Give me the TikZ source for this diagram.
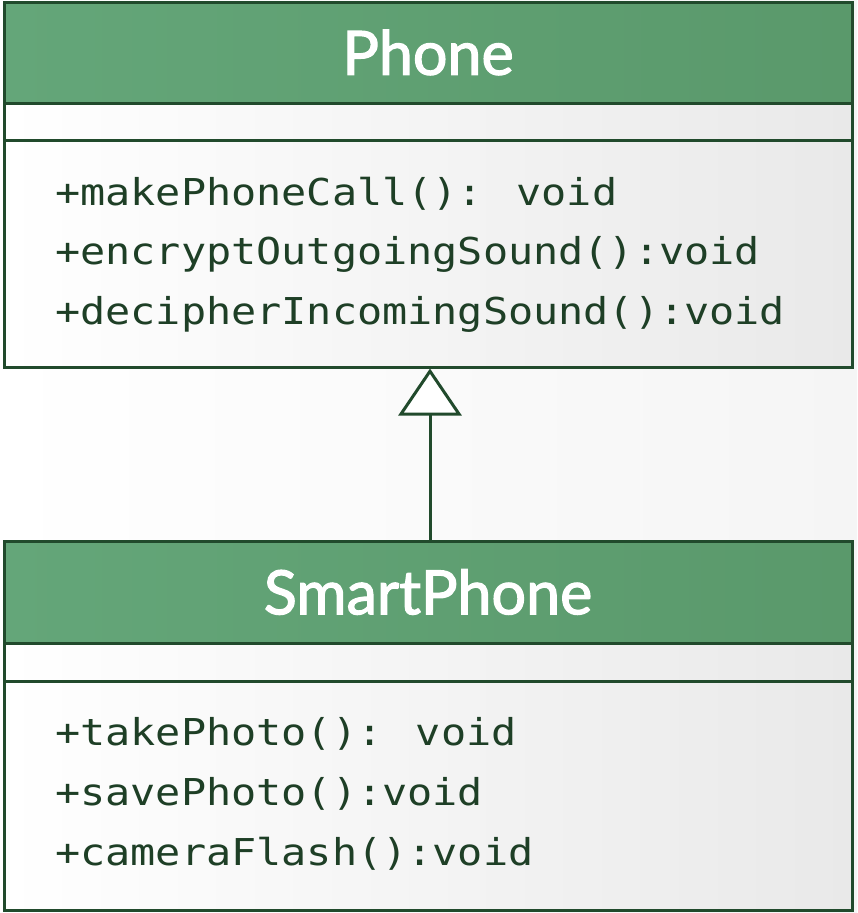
\documentclass[tikz,border=0pt]{standalone}
\usepackage{fontspec}
\usetikzlibrary{arrows.meta}
\newfontfamily\codefont[FakeStretch=1.13]{DejaVu Sans Mono}
\newfontfamily\titlefont[FakeBold=2]{Lato}
\definecolor{umlgreen}{HTML}{64A679}
\definecolor{umlgreendark}{HTML}{5A996B}
\definecolor{umlline}{HTML}{214A2C}
\definecolor{umltext}{HTML}{1E3F26}
\definecolor{paper}{HTML}{F5F5F5}
\definecolor{panelshade}{HTML}{E9E9E9}
\begin{document}
\begin{tikzpicture}[x=1pt,y=-1pt,
  header/.style={draw=umlline, line width=3pt, left color=umlgreen, right color=umlgreendark,
    minimum width=848pt, inner sep=0pt, text=white,
    font=\titlefont\fontsize{61}{61}\selectfont},
  compart/.style={draw=umlline, line width=3pt, left color=white, right color=panelshade,
    minimum width=848pt, inner sep=0pt},
  method/.style={anchor=base west, inner sep=0pt, text=umltext,
    font=\codefont\fontsize{37}{37}\selectfont},
  inherit/.style={draw=umlline, line width=3pt,
    -{Triangle[open, fill=white, length=47pt, width=63pt]}}]
\useasboundingbox (0,0) rectangle (857,913);
\shade[left color=white, right color=paper] (0,0) rectangle (857,913);

% Phone class
\node[header, minimum height=101pt] (phone) at (428,52.5) {Phone};
\node[compart, minimum height=37pt] (phoneattr) at (428,121.5) {};
\node[compart, minimum height=227pt] (phonemeth) at (428,253.5) {};
\node[method] (pm1) at (55,205) {+makePhoneCall(): void};
\node[method] (pm2) at (55,264) {+encryptOutgoingSound():void};
\node[method] (pm3) at (55,324) {+decipherIncomingSound():void};

% SmartPhone class
\node[header, minimum height=102pt] (smart) at (428,592) {SmartPhone};
\node[compart, minimum height=38pt] (smartattr) at (428,662) {};
\node[compart, minimum height=229pt] (smartmeth) at (428,795.5) {};
\node[method] (sm1) at (55,745) {+takePhoto(): void};
\node[method] (sm2) at (55,805) {+savePhoto():void};
\node[method] (sm3) at (55,865) {+cameraFlash():void};

% generalisation
\draw[inherit] ([xshift=2pt]smart.north) -- ([xshift=2pt]phonemeth.south);
\end{tikzpicture}
\end{document}
